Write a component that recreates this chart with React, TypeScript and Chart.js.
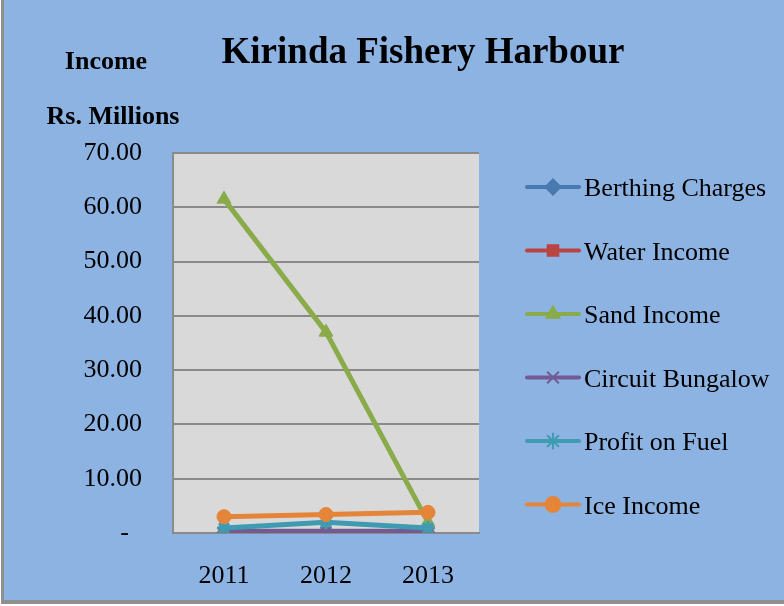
import React, { useEffect, useRef } from 'react';
import { Chart, registerables } from 'chart.js';
import { drawPoint } from 'chart.js/helpers';

Chart.register(...registerables);

const years = ['2011', '2012', '2013'];
const berthingCharges = [0.1, 0.1, 0.1];
const waterIncome = [0.05, 0.05, 0.05];
const sandIncome = [61.5, 37.0, 2.0];
const circuitBungalow = [0.3, 0.3, 0.3];
const profitOnFuel = [0.9, 2.0, 0.9];
const iceIncome = [3.0, 3.4, 3.8];
const seriesNames = ['Berthing Charges', 'Water Income', 'Sand Income', 'Circuit Bungalow', 'Profit on Fuel', 'Ice Income'];
const seriesValues = [berthingCharges, waterIncome, sandIncome, circuitBungalow, profitOnFuel, iceIncome];
const seriesColors = ['#4A78B0', '#B94442', '#8AAB49', '#725B94', '#3E9BB2', '#E4853A'];
const seriesMarkers = ['rectRot', 'rect', 'triangle', 'crossRot', 'star', 'circle'];
const titleText = 'Kirinda Fishery Harbour';
const axisTitle1 = 'Income';
const axisTitle2 = 'Rs. Millions';
const yMin = 0;
const yMax = 70;
const yStep = 10;

const FONT = '"Liberation Serif", "Times New Roman", serif';

const decorPlugin = {
  id: 'decor',
  beforeDraw(chart: any) {
    const { ctx, chartArea, width, height } = chart;
    ctx.save();
    ctx.fillStyle = '#ffffff';
    ctx.fillRect(0, 0, width, height);
    ctx.fillStyle = '#8DB3E2';
    ctx.fillRect(4, 0, width - 4, 600);
    ctx.fillStyle = '#8f8f8f';
    ctx.fillRect(1, 0, 3, 604);
    ctx.fillRect(1, 600, width - 1, 4);
    ctx.fillStyle = '#D9D9D9';
    ctx.fillRect(chartArea.left, chartArea.top, chartArea.right - chartArea.left, chartArea.bottom - chartArea.top);
    ctx.restore();
  },
  afterDraw(chart: any) {
    const { ctx } = chart;
    ctx.save();
    ctx.fillStyle = '#000000';
    ctx.textAlign = 'center';
    ctx.textBaseline = 'alphabetic';
    ctx.font = `bold 37px ${FONT}`;
    ctx.fillText(titleText, 423, 63);
    ctx.font = `bold 26px ${FONT}`;
    ctx.fillText(axisTitle1, 106, 69);
    ctx.fillText(axisTitle2, 113, 124);

    // legend
    const ds = chart.data.datasets;
    ctx.textAlign = 'left';
    ctx.font = `26px ${FONT}`;
    for (let i = 0; i < ds.length; i++) {
      const y = 187 + i * 63.5;
      const c = ds[i].borderColor;
      ctx.strokeStyle = c;
      ctx.fillStyle = c;
      ctx.lineWidth = 4;
      ctx.lineCap = 'round';
      ctx.beginPath();
      ctx.moveTo(527, y);
      ctx.lineTo(579, y);
      ctx.stroke();
      ctx.lineWidth = 2;
      drawPoint(ctx, { pointStyle: ds[i].pointStyle, radius: 7.5, rotation: 0, borderWidth: 2 } as any, 553, y);
      ctx.fillStyle = '#000000';
      ctx.fillText(ds[i].label, 584, y + 9);
    }
    ctx.restore();
  },
};

export default function App() {
  const ref = useRef<HTMLCanvasElement>(null);
  useEffect(() => {
    if (!ref.current) return;
    const datasets = seriesNames.map((name, i) => ({
      label: name,
      data: seriesValues[i],
      borderColor: seriesColors[i],
      backgroundColor: seriesColors[i],
      pointBackgroundColor: seriesColors[i],
      pointBorderColor: seriesColors[i],
      pointStyle: seriesMarkers[i],
      pointRadius: i === 2 ? 8 : 7,
      pointBorderWidth: i === 3 || i === 4 ? 3 : 1,
      borderWidth: 5,
      tension: 0,
      order: seriesNames.length - 1 - i,
    }));
    const chart = new Chart(ref.current, {
      type: 'line',
      data: { labels: years, datasets },
      options: {
        animation: false,
        responsive: false,
        maintainAspectRatio: false,
        layout: { padding: { left: 0, top: 153, right: 305, bottom: 0 } },
        plugins: { legend: { display: false }, title: { display: false }, tooltip: { enabled: false } },
        scales: {
          x: {
            offset: true,
            grid: { display: false, drawTicks: false },
            border: { display: true, color: '#8a8a8a', width: 2 },
            ticks: { color: '#000', font: { family: FONT, size: 26 }, padding: 28, maxRotation: 0 },
            afterFit: (s: any) => { s.height = 73; },
          },
          y: {
            min: yMin,
            max: yMax,
            grid: { color: '#8a8a8a', lineWidth: 2, drawTicks: false },
            border: { display: true, color: '#8a8a8a', width: 2 },
            ticks: {
              stepSize: yStep,
              color: '#000',
              font: { family: FONT, size: 26 },
              padding: 31,
              callback: (v: any) => (Number(v) === 0 ? '-  ' : Number(v).toFixed(2)),
            },
            afterFit: (s: any) => { s.width = 173; },
          },
        },
      },
      plugins: [decorPlugin],
    });
    return () => chart.destroy();
  }, []);
  return (
    <div style={{ position: 'absolute', left: 0, top: 0, width: 784, height: 606 }}>
      <canvas ref={ref} width={784} height={606} style={{ display: 'block' }} />
    </div>
  );
}
